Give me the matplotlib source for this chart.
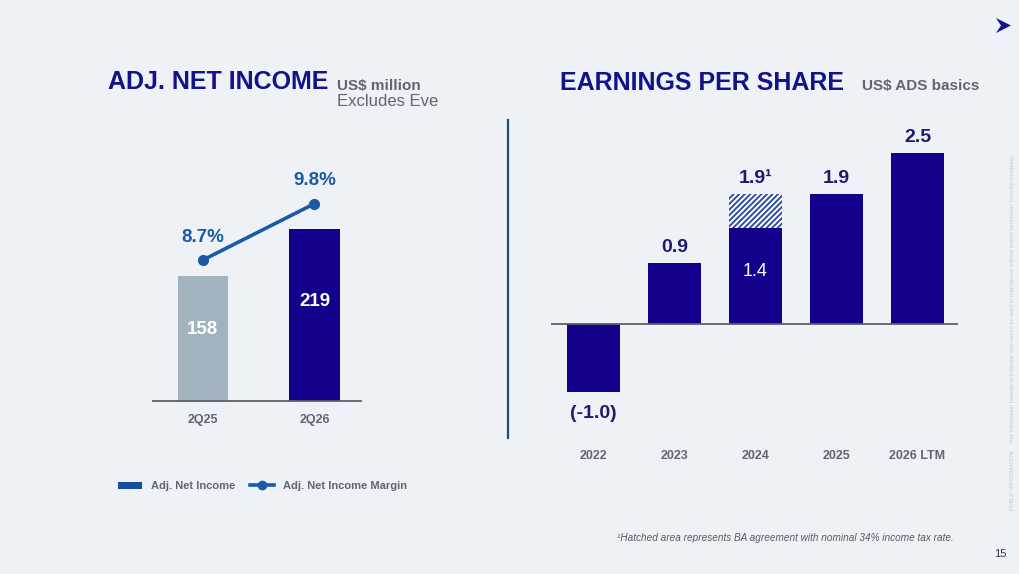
import matplotlib
matplotlib.use('Agg')
import matplotlib.pyplot as plt
from matplotlib import transforms
from matplotlib.patches import Patch, Polygon
from matplotlib.lines import Line2D

plt.rcParams['font.family'] = ['Liberation Sans', 'DejaVu Sans']
plt.rcParams['hatch.linewidth'] = 1.4

# ---------------- data ----------------
ni_periods = ['2Q25', '2Q26']
ni_values = [158, 219]
ni_margin = [8.7, 9.8]
ni_labels = ['158', '219']
margin_labels = ['8.7%', '9.8%']

eps_years = ['2022', '2023', '2024', '2025', '2026 LTM']
eps_values = [-1.0, 0.9, 1.4, 1.9, 2.5]      # solid part
eps_hatched = [0.0, 0.0, 0.5, 0.0, 0.0]      # hatched BA agreement part
eps_labels = ['(-1.0)', '0.9', '1.9\u00b9', '1.9', '2.5']
eps_inner_labels = ['', '', '1.4', '', '']

# ---------------- style ----------------
W, H = 1020, 574
BG = '#eef2f7'
NAVY = '#14128a'
BAR_DARK = '#13008b'
BAR_GREY = '#a3b3bd'
LINE_BLUE = '#1a5aa6'
LABEL_DARK = '#1a1a6e'
GREY_TXT = '#5f6670'
AXIS_GREY = '#5a6068'

fig = plt.figure(figsize=(W / 100, H / 100), dpi=100, facecolor=BG)


def fx(px):
    return px / W


def fy(py):
    return 1 - py / H


# ---------------- titles ----------------
fig.text(fx(108), fy(89), 'ADJ. NET INCOME', fontsize=18, fontweight='bold',
         color=NAVY, va='baseline', ha='left')
fig.text(fx(337), fy(90), 'US$ million', fontsize=11, fontweight='bold',
         color=GREY_TXT, va='baseline', ha='left')
fig.text(fx(337), fy(106), 'Excludes Eve', fontsize=12,
         color=GREY_TXT, va='baseline', ha='left')

fig.text(fx(560), fy(90), 'EARNINGS PER SHARE', fontsize=18, fontweight='bold',
         color=NAVY, va='baseline', ha='left')
fig.text(fx(862), fy(90), 'US$ ADS basics', fontsize=11, fontweight='bold',
         color=GREY_TXT, va='baseline', ha='left')

# ---------------- left chart ----------------
axL = fig.add_axes([fx(153), fy(400.7), fx(361) - fx(153), (400.7 - 120) / H])
axL.set_facecolor('none')
xL = list(range(len(ni_periods)))
axL.bar(xL, ni_values, width=0.455, color=[BAR_GREY, BAR_DARK], zorder=2)
axL.set_xlim(-0.448, 1.417)
axL.set_ylim(0, 357)
for s in ['top', 'right', 'left']:
    axL.spines[s].set_visible(False)
axL.spines['bottom'].set_color(AXIS_GREY)
axL.spines['bottom'].set_linewidth(1.3)
axL.set_xticks([])
axL.set_yticks([])
for i, v in enumerate(ni_values):
    axL.text(i, v * 0.575, ni_labels[i], ha='center', va='center',
             fontsize=13.5, fontweight='bold', color='white', zorder=3)
tL = transforms.blended_transform_factory(axL.transData, fig.transFigure)
for i, lab in enumerate(ni_periods):
    axL.text(i, fy(423), lab, transform=tL, ha='center', va='baseline',
             fontsize=9, fontweight='bold', color=GREY_TXT)

axM = axL.twinx()
axM.set_ylim(5.952, 11.434)
axM.plot(xL, ni_margin, color=LINE_BLUE, lw=2.6, marker='o', ms=7,
         zorder=4, solid_capstyle='round')
for s in axM.spines.values():
    s.set_visible(False)
axM.set_yticks([])
for i, v in enumerate(ni_margin):
    axM.annotate(margin_labels[i], (i, v), xytext=(0, 16.5),
                 textcoords='offset points', ha='center', va='center',
                 fontsize=13.5, fontweight='bold', color=LINE_BLUE)

# legend
handles = [Patch(facecolor='#1a4ca0', edgecolor='none'),
           Line2D([], [], color=LINE_BLUE, lw=2.6, marker='o', ms=6)]
fig.legend(handles, ['Adj. Net Income', 'Adj. Net Income Margin'],
           loc='center left', bbox_to_anchor=(fx(118), fy(486)),
           ncol=2, frameon=False, borderpad=0, borderaxespad=0,
           handlelength=2.2, handleheight=0.6, handletextpad=0.8,
           columnspacing=1.3,
           prop={'size': 8, 'weight': 'bold'}, labelcolor=GREY_TXT)

# divider
fig.add_artist(Line2D([fx(508), fx(508)], [fy(120), fy(438)],
                      color='#1f4e79', lw=1.6))

# ---------------- right chart ----------------
axR = fig.add_axes([fx(551), fy(440), fx(958) - fx(551), 320 / H])
axR.set_facecolor('none')
xR = list(range(len(eps_years)))
axR.bar(xR, eps_values, width=0.655, color=BAR_DARK, zorder=2)
axR.bar(xR, eps_hatched, bottom=eps_values, width=0.655, facecolor='white',
        edgecolor='#2e4e9e', hatch='//////', linewidth=0, zorder=2)
axR.set_xlim(-0.525, 4.5)
axR.set_ylim(-1.698, 2.987)
axR.axhline(0, color=AXIS_GREY, lw=1.3, zorder=3)
for s in axR.spines.values():
    s.set_visible(False)
axR.set_xticks([])
axR.set_yticks([])
for i, v in enumerate(eps_values):
    top = v + eps_hatched[i]
    if top >= 0:
        axR.annotate(eps_labels[i], (i, top), xytext=(0, 11),
                     textcoords='offset points', ha='center', va='center',
                     fontsize=14, fontweight='bold', color=LABEL_DARK)
    else:
        axR.annotate(eps_labels[i], (i, top), xytext=(0, -15),
                     textcoords='offset points', ha='center', va='center',
                     fontsize=14, fontweight='bold', color=LABEL_DARK)
    if eps_inner_labels[i]:
        axR.text(i, v * 0.55, eps_inner_labels[i], ha='center', va='center',
                 fontsize=13, color='white', zorder=4)
tR = transforms.blended_transform_factory(axR.transData, fig.transFigure)
for i, lab in enumerate(eps_years):
    axR.text(i, fy(459), lab, transform=tR, ha='center', va='baseline',
             fontsize=9, fontweight='bold', color=GREY_TXT)

# ---------------- footnote, page number, side text, logo ----------------
fig.text(fx(617), fy(541), '\u00b9Hatched area represents BA agreement with nominal 34% income tax rate.',
         fontsize=7.2, style='italic', color='#555b64', va='baseline', ha='left')
fig.text(fx(1006), fy(557), '15', fontsize=8, color='#2c3350',
         va='baseline', ha='right')
fig.text(fx(1013), fy(332), 'PUBLIC INFORMATION     This information belongs to Embraer and cannot be used or reproduced without written permission from the Company.',
         fontsize=4, color='#c3c8cf', rotation=90, ha='center', va='center')
fig.add_artist(Polygon([[fx(996), fy(18)], [fx(1011), fy(25.5)], [fx(996), fy(33)],
                        [fx(1001), fy(25.5)]], closed=True, facecolor=NAVY,
                       edgecolor='none', transform=fig.transFigure))

fig.savefig('out.png', dpi=100, facecolor=BG)
